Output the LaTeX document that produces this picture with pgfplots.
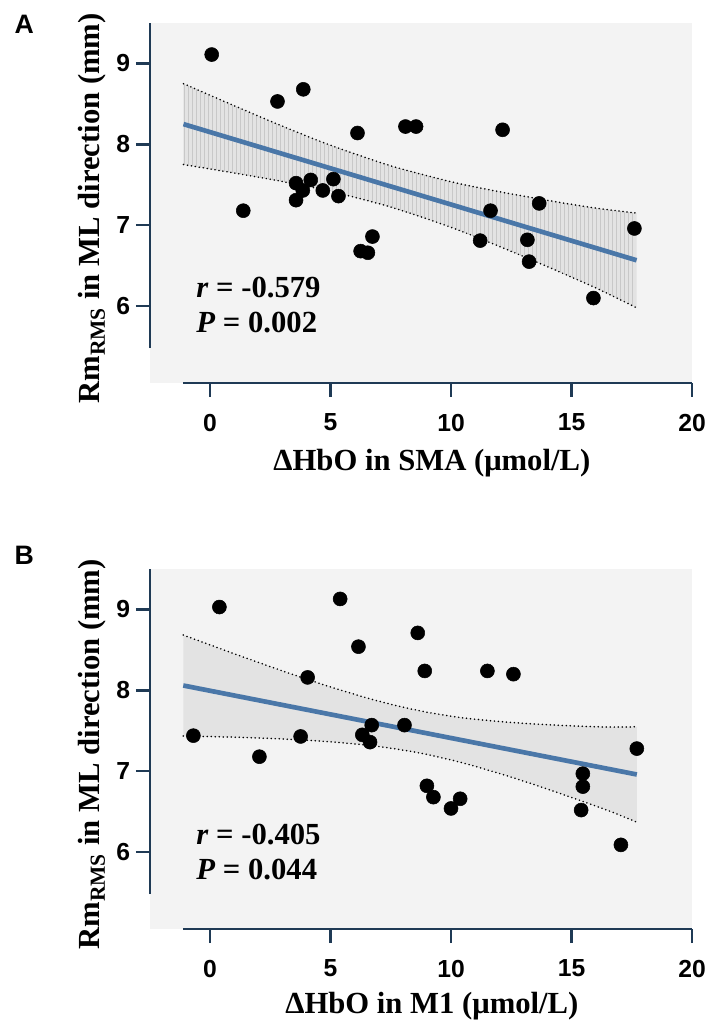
\documentclass[border=0pt]{standalone}
\usepackage{fontspec}
\setmainfont{Liberation Serif}
\newfontfamily\arialfont{Liberation Sans}
\usepackage{pgfplots}
\usepackage{pgfplotstable}
\pgfplotsset{compat=1.18}
\usetikzlibrary{patterns}
\definecolor{axiscol}{HTML}{1F3A55}
\definecolor{regcol}{HTML}{4A77A8}
\definecolor{bgcol}{HTML}{F3F3F3}
\definecolor{bandcol}{HTML}{E3E3E3}
\definecolor{hatchcol}{HTML}{C8C8C8}

\pgfplotstableread{
x y
0.07 9.11
1.38 7.18
2.80 8.53
3.87 8.68
3.57 7.52
3.85 7.43
3.57 7.31
4.18 7.56
4.68 7.43
5.12 7.57
5.33 7.36
6.12 8.14
6.25 6.68
6.55 6.66
6.74 6.86
8.11 8.22
8.55 8.22
12.14 8.18
11.21 6.81
11.64 7.18
13.17 6.82
13.24 6.55
13.66 7.27
15.91 6.10
17.61 6.96
}\dataA

\pgfplotstableread{
x y
0.39 9.03
5.40 9.13
-0.69 7.44
2.05 7.18
3.76 7.43
4.05 8.16
6.16 8.54
6.32 7.45
6.71 7.57
6.64 7.36
8.07 7.57
8.62 8.71
8.91 8.24
9.00 6.82
9.27 6.68
10.00 6.54
10.38 6.66
11.51 8.24
12.59 8.20
15.47 6.97
15.47 6.81
15.40 6.52
17.05 6.09
17.71 7.28
}\dataB

\tikzset{
  stat/.style={anchor=base west, font=\bfseries\fontsize{23}{27}\selectfont},
  panellabel/.style={anchor=base west, font=\arialfont\bfseries\fontsize{20}{22}\selectfont},
}

\pgfplotsset{
  panel/.style={
    scale only axis, width=406.5pt, height=270pt,
    xmin=-2.49, xmax=20, ymin=5.05, ymax=9.5,
    axis x line*=bottom, axis y line*=left,
    axis line style={draw=none,-},
    axis background/.style={fill=bgcol},
    xtick={0,5,10,15,20}, ytick={6,7,8,9},
    tick align=outside,
    major tick length=10.5pt,
    major tick style={draw=axiscol, line width=1.75pt},
    /pgf/number format/assume math mode=true,
    ticklabel style={font=\arialfont\bfseries\fontsize{18.5}{21}\selectfont, inner sep=0pt},
    xticklabel style={yshift=-12.5pt},
    yticklabel style={xshift=-4.3pt},
    label style={font=\bfseries\fontsize{23}{27}\selectfont},
    ylabel={Rm\textsubscript{RMS} in ML direction (mm)},
    ylabel style={at={(axis description cs:-0.0923,0.485)}, anchor=base},
    clip=false,
  },
  dots/.style={only marks, mark=*, mark size=5.25pt, black},
  band/.style={draw=none, fill=bandcol},
  bandedge/.style={black, line width=1.3pt, line cap=round, dash pattern=on 0pt off 3pt},
  reg/.style={regcol, line width=3.5pt},
}

\begin{document}
\begin{tikzpicture}
\path[use as bounding box] (-112.5pt,-74.25pt) rectangle (419.25pt,696.75pt);

% Panel A
\begin{axis}[panel, at={(0,409.5pt)}, anchor=south west,
  xlabel={ΔHbO in SMA (μmol/L)},
  xlabel style={at={(axis description cs:0.52,-0.2417)}, anchor=base}]
\addplot[band] coordinates {(-1.1,8.75) (1,8.478) (3,8.225) (5,7.989) (7.5,7.735) (10,7.538) (12,7.415) (14,7.308) (16,7.212) (17.7,7.15)
  (17.7,5.98) (16,6.226) (14,6.488) (12,6.739) (10,6.974) (7.5,7.225) (5,7.419) (3,7.541) (1,7.646) (-1.1,7.75)} -- cycle;
\addplot[draw=none, pattern=vertical lines, pattern color=hatchcol] coordinates {(-1.1,8.75) (1,8.478) (3,8.225) (5,7.989) (7.5,7.735) (10,7.538) (12,7.415) (14,7.308) (16,7.212) (17.7,7.15)
  (17.7,5.98) (16,6.226) (14,6.488) (12,6.739) (10,6.974) (7.5,7.225) (5,7.419) (3,7.541) (1,7.646) (-1.1,7.75)} -- cycle;
\addplot[bandedge, smooth] coordinates {(-1.1,8.75) (1,8.478) (3,8.225) (5,7.989) (7.5,7.735) (10,7.538) (12,7.415) (14,7.308) (16,7.212) (17.7,7.15)};
\addplot[bandedge, smooth] coordinates {(-1.1,7.75) (1,7.646) (3,7.541) (5,7.419) (7.5,7.225) (10,6.974) (12,6.739) (14,6.488) (16,6.226) (17.7,5.98)};
\addplot[reg] coordinates {(-1.1,8.25) (17.7,6.567)};
\addplot[dots] table[x=x,y=y] {\dataA};
\draw[axiscol, line width=1.75pt] (axis cs:-2.49,5.48) -- (axis cs:-2.49,9.5);
\draw[axiscol, line width=1.75pt] (axis cs:-1.1,5.05) -- (axis cs:20,5.05);
\node[stat] at (axis cs:-0.76,6.106) {\textit{r} = -0.579};
\node[stat] at (axis cs:-0.76,5.67) {\textit{P} = 0.002};
\end{axis}

% Panel B
\begin{axis}[panel, at={(0,0)}, anchor=south west,
  xlabel={ΔHbO in M1 (μmol/L)},
  xlabel style={at={(axis description cs:0.52,-0.235)}, anchor=base}]
\addplot[band] coordinates {(-1.11,8.684) (1,8.453) (3,8.241) (5,8.042) (7,7.866) (8.76,7.744) (10.5,7.660) (12.5,7.603) (14.5,7.568) (16.5,7.546) (17.71,7.55)
  (17.71,6.37) (16.5,6.516) (14.5,6.728) (12.5,6.927) (10.5,7.102) (8.76,7.222) (7,7.306) (5,7.364) (3,7.399) (1,7.421) (-1.11,7.436)} -- cycle;
\addplot[bandedge, smooth] coordinates {(-1.11,8.684) (1,8.453) (3,8.241) (5,8.042) (7,7.866) (8.76,7.744) (10.5,7.660) (12.5,7.603) (14.5,7.568) (16.5,7.546) (17.71,7.55)};
\addplot[bandedge, smooth] coordinates {(-1.11,7.436) (1,7.421) (3,7.399) (5,7.364) (7,7.306) (8.76,7.222) (10.5,7.102) (12.5,6.927) (14.5,6.728) (16.5,6.516) (17.71,6.37)};
\addplot[reg] coordinates {(-1.11,8.06) (17.71,6.96)};
\addplot[dots] table[x=x,y=y] {\dataB};
\draw[axiscol, line width=1.75pt] (axis cs:-2.49,5.48) -- (axis cs:-2.49,9.5);
\draw[axiscol, line width=1.75pt] (axis cs:-1.1,5.05) -- (axis cs:20,5.05);
\node[stat] at (axis cs:-0.76,6.10) {\textit{r} = -0.405};
\node[stat] at (axis cs:-0.76,5.66) {\textit{P} = 0.044};
\end{axis}

\node[panellabel] at (-105pt,671.25pt) {A};
\node[panellabel] at (-105pt,273pt) {B};
\end{tikzpicture}
\end{document}
